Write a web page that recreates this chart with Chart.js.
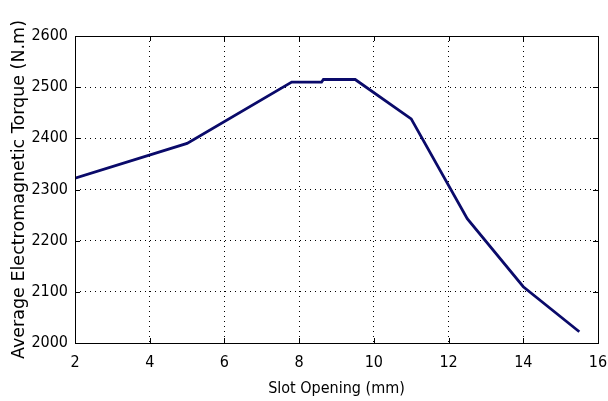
<!DOCTYPE html>
<html>
<head>
<meta charset="utf-8">
<script src="https://cdn.jsdelivr.net/npm/chart.js@4/dist/chart.umd.min.js"></script>
<style>
  html, body { margin: 0; padding: 0; background: #fff; }
  #wrap { width: 608px; height: 401px; }
</style>
</head>
<body>
<div id="wrap"><canvas id="torqueChart" width="608" height="401"></canvas></div>
<script>
// values
const slotOpening = [2, 5, 7.8, 8.6, 8.65, 9.5, 11, 12.5, 14, 15.5];
const avgTorque = [2322, 2390, 2510, 2510, 2515, 2515, 2438, 2243, 2110, 2022];
const xTicks = [2, 4, 6, 8, 10, 12, 14, 16];
const yTicks = [2000, 2100, 2200, 2300, 2400, 2500, 2600];

const narrowFamily = "'DejaVu Sans Condensed', 'Liberation Sans', sans-serif";
const tickFont = { family: narrowFamily, size: 16 };

// MATLAB style box with inward ticks on all four sides
const boxPlugin = {
  id: "matlabBox",
  afterDraw(chart) {
    const { ctx, chartArea: a, scales } = chart;
    ctx.save();
    ctx.strokeStyle = "#000";
    ctx.lineWidth = 1;
    ctx.strokeRect(a.left + 0.5, a.top + 0.5, a.right - a.left, a.bottom - a.top);
    const len = 5;
    ctx.beginPath();
    xTicks.forEach(v => {
      const px = Math.round(scales.x.getPixelForValue(v)) + 0.5;
      ctx.moveTo(px, a.bottom); ctx.lineTo(px, a.bottom - len);
      ctx.moveTo(px, a.top); ctx.lineTo(px, a.top + len);
    });
    yTicks.forEach(v => {
      const py = Math.round(scales.y.getPixelForValue(v)) + 0.5;
      ctx.moveTo(a.left, py); ctx.lineTo(a.left + len, py);
      ctx.moveTo(a.right, py); ctx.lineTo(a.right - len, py);
    });
    ctx.stroke();
    ctx.restore();
  }
};

const ctx = document.getElementById("torqueChart").getContext("2d");
new Chart(ctx, {
  type: "line",
  data: {
    datasets: [{
      data: slotOpening.map((x, i) => ({ x, y: avgTorque[i] })),
      borderColor: "#0a0a6a",
      borderWidth: 2.8,
      pointRadius: 0,
      tension: 0,
      fill: false
    }]
  },
  options: {
    responsive: false,
    animation: false,
    devicePixelRatio: 1,
    layout: { padding: { top: 36, right: 10, bottom: 0, left: 0 } },
    plugins: { legend: { display: false }, tooltip: { enabled: false } },
    scales: {
      x: {
        type: "linear",
        min: 2,
        max: 16,
        afterBuildTicks: (scale) => { scale.ticks = xTicks.map(v => ({ value: v })); },
        afterFit: (scale) => {
          scale.height = 58;
          scale.paddingRight = 0;
          scale.paddingLeft = 0;
        },
        ticks: { color: "#000", font: tickFont, padding: 10, maxRotation: 0, callback: (v) => String(v) },
        grid: { color: "#000", lineWidth: 1, drawTicks: false },
        border: { display: false, dash: [1, 4] },
        title: {
          display: true,
          text: "Slot Opening (mm)",
          color: "#000",
          font: { family: narrowFamily, size: 16 },
          padding: { top: 0, bottom: 3 }
        }
      },
      y: {
        min: 2000,
        max: 2600,
        afterBuildTicks: (scale) => { scale.ticks = yTicks.map(v => ({ value: v })); },
        afterFit: (scale) => { scale.width = 75; },
        ticks: { color: "#000", font: tickFont, padding: 7, callback: (v) => String(v) },
        grid: { color: "#000", lineWidth: 1, drawTicks: false },
        border: { display: false, dash: [1, 4] },
        title: {
          display: true,
          text: "Average Electromagnetic Torque (N.m)",
          color: "#000",
          font: { family: "'DejaVu Sans', sans-serif", size: 17.5 },
          padding: { top: 9, bottom: 0 }
        }
      }
    }
  },
  plugins: [boxPlugin]
});
</script>
</body>
</html>
